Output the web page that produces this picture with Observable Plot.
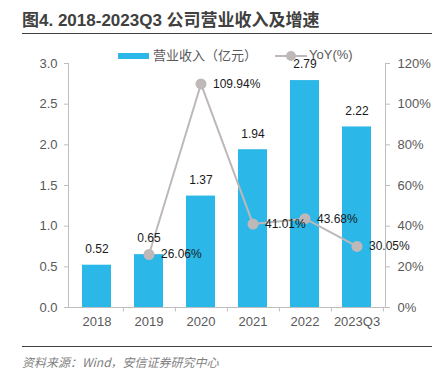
<!DOCTYPE html>
<html><head><meta charset="utf-8">
<script src="https://cdn.jsdelivr.net/npm/d3@7"></script>
<script src="https://cdn.jsdelivr.net/npm/@observablehq/plot@0.6"></script>
<style>
body{margin:0;background:#fff;}
#wrap{position:relative;width:445px;height:369px;overflow:hidden;font-family:"Liberation Sans",Arial,sans-serif;}
#title{position:absolute;left:22px;top:11px;font-size:17px;line-height:20px;font-weight:bold;color:#404040;font-family:"Liberation Sans","Noto Sans CJK SC",sans-serif;white-space:nowrap;}
.rule{position:absolute;left:22px;width:410px;height:1.5px;background:#404040;}
#chart{position:absolute;left:0;top:40px;}
#legend{position:absolute;top:48px;left:0;width:445px;height:16px;font-size:13px;color:#595959;font-family:"Noto Sans CJK SC",sans-serif;}
#caption{position:absolute;left:22px;top:356px;font-size:12px;line-height:12px;font-style:italic;color:#7f7f7f;font-family:"Noto Sans CJK SC",sans-serif;white-space:nowrap;}
</style></head>
<body>
<div id="wrap">
  <div id="title">图4. 2018-2023Q3 公司营业收入及增速</div>
  <div class="rule" style="top:32.5px"></div>
  <div id="chart"></div>
  <div id="legend">
    <div style="position:absolute;left:118px;top:5px;width:31px;height:6px;background:#2bb7e7"></div>
    <div style="position:absolute;left:153px;top:-2px;line-height:18px;">营业收入（亿元）</div>
    <div style="position:absolute;left:275px;top:7px;width:32px;height:2px;background:#bfb8b8"></div>
    <div style="position:absolute;left:286px;top:3px;width:10px;height:10px;border-radius:50%;background:#bfb8b8"></div>
    <div style="position:absolute;left:309px;top:-2px;line-height:18px;font-family:'Liberation Sans',Arial,sans-serif;">YoY(%)</div>
  </div>
  <div class="rule" style="top:345.5px"></div>
  <div id="caption">资料来源：Wind，安信证券研究中心</div>
</div>
<script>
const years = ["2018","2019","2020","2021","2022","2023Q3"];
const revenue = [0.52,0.65,1.37,1.94,2.79,2.22];
const yoy = [null,26.06,109.94,41.01,43.68,30.05];
const leftTicks = [0,0.5,1,1.5,2,2.5,3];
const rightTicks = [0,20,40,60,80,100,120];

const k = 3/120;
const rows = years.map((y,i)=>({year:y, rev:revenue[i], yoy:yoy[i]}));
const lineRows = rows.filter(d=>d.yoy!=null).map(d=>({...d, y2:d.yoy*k}));

const W=445, H=300, ML=68, MR=60, MT=23, MB=33;
const step = (W-ML-MR)/years.length;

const chart = Plot.plot({
  width:W, height:H,
  marginLeft:ML, marginRight:MR, marginTop:MT, marginBottom:MB,
  style:{fontFamily:"'Liberation Sans',Arial,sans-serif", fontSize:"13px", background:"#fff"},
  x:{domain:years, paddingInner:0.45, paddingOuter:0.225, label:null},
  y:{domain:[0,3], label:null},
  marks:[
    Plot.barY(rows,{x:"year", y:"rev", fill:"#2bb7e7"}),
    Plot.ruleY([0],{stroke:"#bfbfbf"}),
    Plot.frame({anchor:"left", stroke:"#bfbfbf"}),
    Plot.frame({anchor:"right", stroke:"#bfbfbf"}),
    Plot.ruleX(years,{x:d=>d, y1:0, y2:-0.055, dx:step/2, stroke:"#bfbfbf"}),
    Plot.axisY(leftTicks,{anchor:"left", tickSize:4, tickPadding:7, stroke:"#bfbfbf", fill:"#595959", fontSize:13, tickFormat:d3.format(".1f"), label:null}),
    Plot.axisY(rightTicks.map(v=>v*k),{anchor:"right", tickSize:4, tickPadding:8, stroke:"#bfbfbf", fill:"#595959", fontSize:13, tickFormat:d=>Math.round(d/k)+"%", label:null}),
    Plot.axisX({tickSize:0, tickPadding:9, fill:"#595959", fontSize:13, label:null}),
    Plot.line(lineRows,{x:"year", y:"y2", stroke:"#bfb8b8", strokeWidth:2}),
    Plot.dot(lineRows,{x:"year", y:"y2", r:5.5, fill:"#bfb8b8"}),
    Plot.text(rows,{x:"year", y:"rev", text:d=>d.rev.toFixed(2), dy:-16, fontSize:12, fill:"#1a1a1a"}),
    Plot.text(lineRows,{x:"year", y:"y2", text:d=>d.yoy.toFixed(2)+"%", dx:12, textAnchor:"start", fontSize:12, fill:"#1a1a1a"})
  ]
});
document.getElementById("chart").appendChild(chart);
</script>
</body></html>
